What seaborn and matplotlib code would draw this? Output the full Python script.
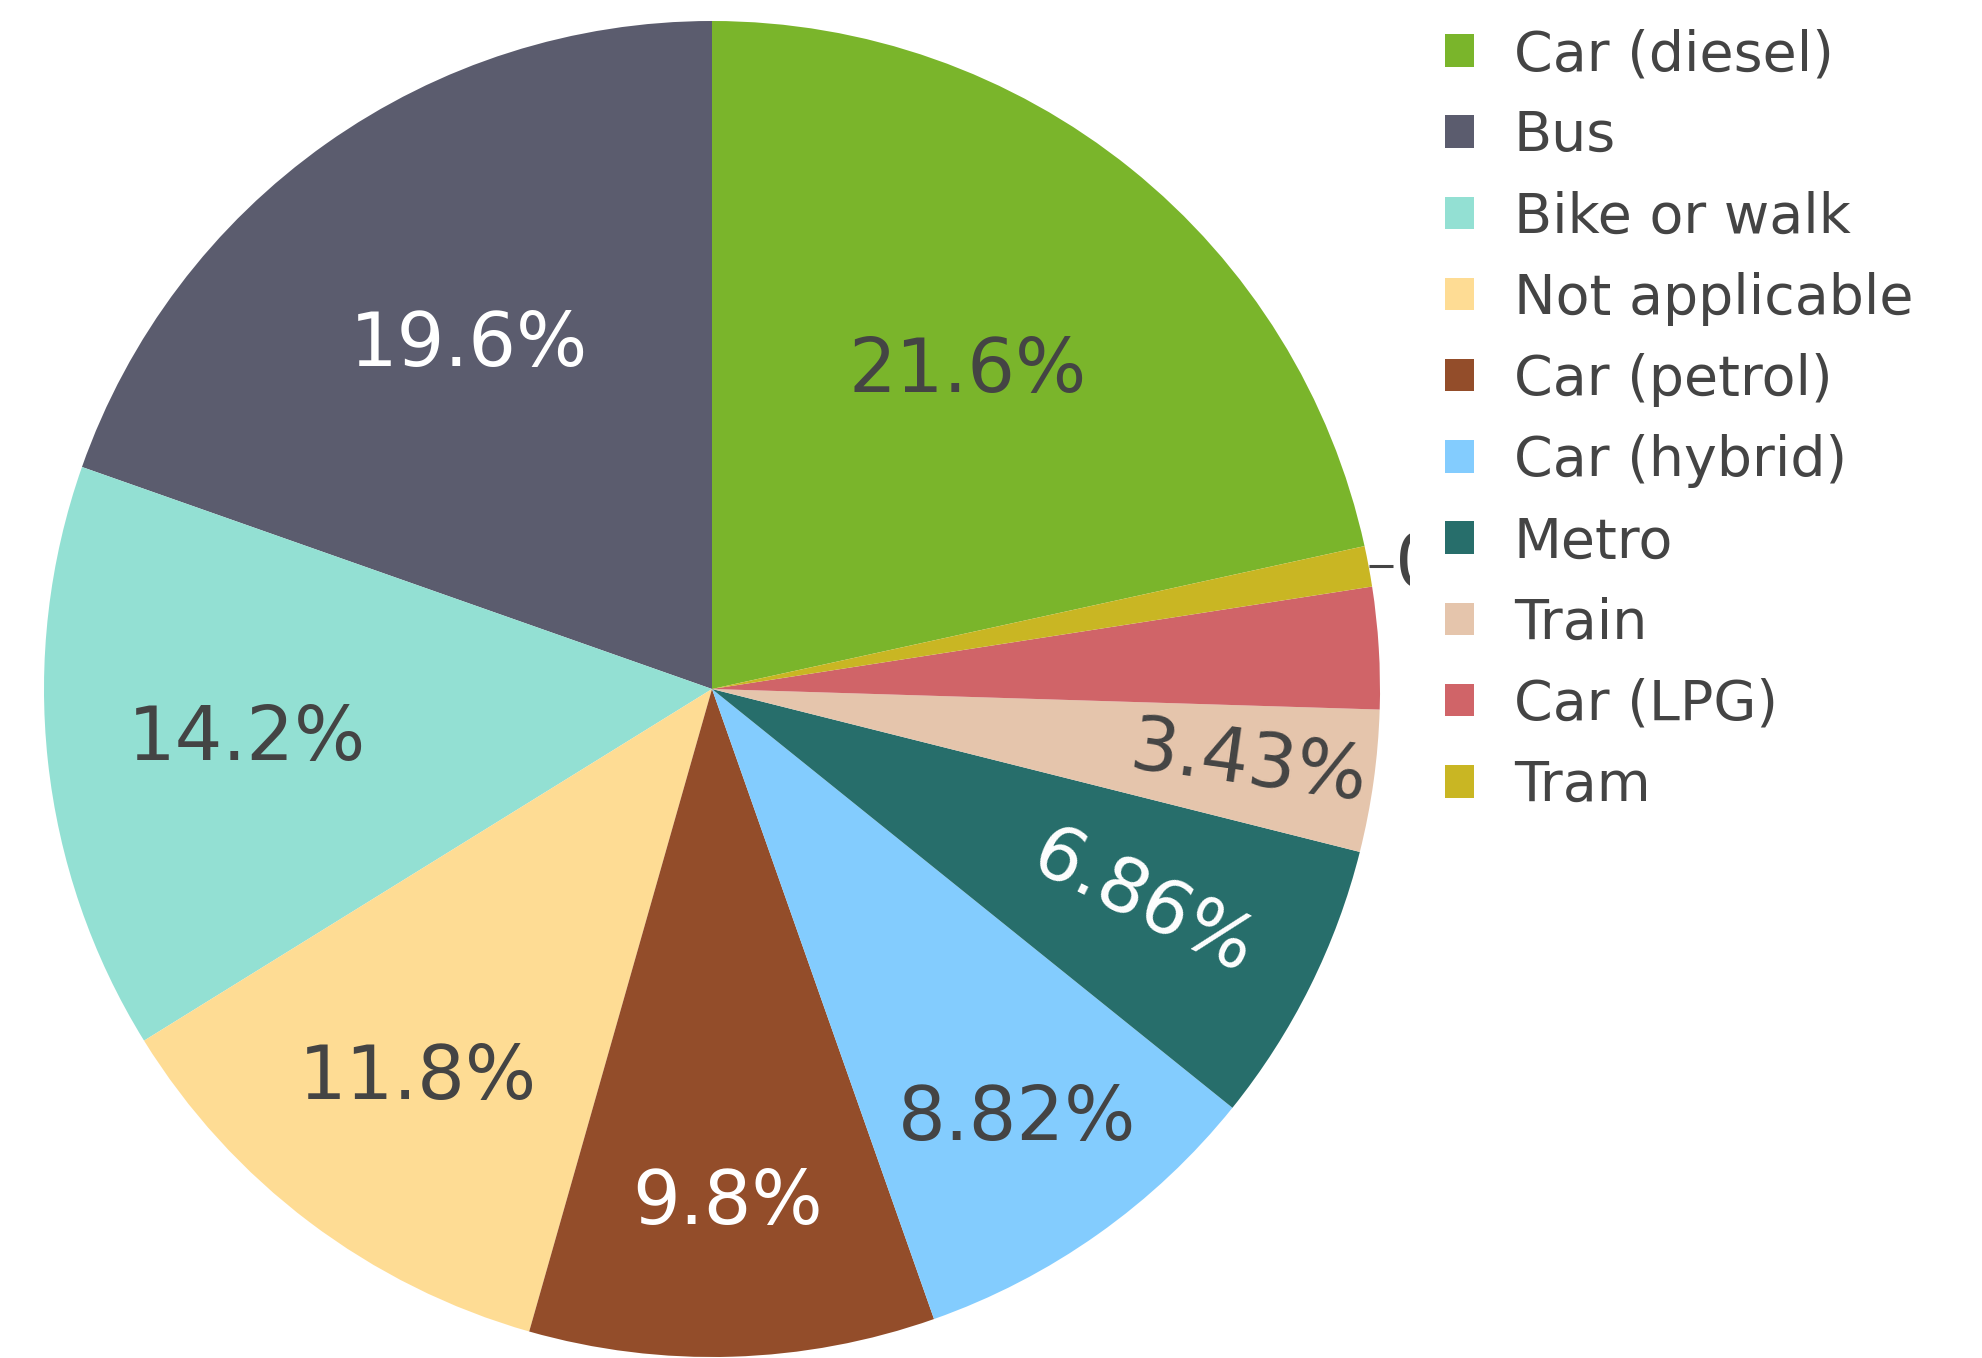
import numpy as np
import matplotlib
matplotlib.use('Agg')
import matplotlib.pyplot as plt
from matplotlib.patches import Patch
import seaborn as sns

# Commute mode shares (counts out of 204 respondents)
modes = ["Car (diesel)", "Bus", "Bike or walk", "Not applicable", "Car (petrol)",
         "Car (hybrid)", "Metro", "Train", "Car (LPG)", "Tram"]
counts = [44, 40, 29, 24, 20, 18, 14, 7, 6, 2]
colors = ["#7AB52B", "#5B5C6E", "#93E0D3", "#FEDC94", "#934D2A",
          "#83CCFE", "#276E6B", "#E5C5AC", "#D06468", "#C9B623"]
# how each slice label is shown
label_mode = ["in", "in", "in", "in", "in", "in", "in", "in", "none", "out"]
label_radius = [0.61, 0.63, 0.70, 0.73, 0.77, 0.79, 0.72, 0.81, 0.0, 1.0]
dark_slices = ["Bus", "Car (petrol)", "Metro"]

sns.set_theme(style="white")
plt.rcParams['font.family'] = ['DejaVu Sans']
TXT = "#444444"

W, H = 1983, 1358
cx, cy, R = 712, 689, 668
clip_x = 1410

fig = plt.figure(figsize=(W / 100, H / 100), dpi=100)
ax = fig.add_axes([0, 0, clip_x / W, 1])

palette = sns.color_palette(colors)
shares = np.array(counts) / sum(counts)
start = 90 - 360 * shares[0]
wedges, _ = ax.pie(counts, colors=palette, startangle=start, counterclock=True,
                   radius=1, wedgeprops=dict(linewidth=0))

for w, name, share, mode, rr in zip(wedges, modes, shares, label_mode, label_radius):
    mid = np.deg2rad((w.theta1 + w.theta2) / 2)
    txt = f"{share * 100:.3g}%"
    if mode == "in":
        rot = np.rad2deg(mid) % 360 - 360 if share < 0.08 else 0
        col = "white" if name in dark_slices else TXT
        ax.text(rr * np.cos(mid), rr * np.sin(mid), txt, ha="center", va="center",
                fontsize=54, color=col, rotation=rot, rotation_mode="anchor")
    elif mode == "out":
        # outside label, cut off at the plot area edge like the original
        x0, y0 = np.cos(mid), np.sin(mid)
        x1 = x0 + 24 / R
        ax.plot([x0, x1], [y0, y0], color=TXT, lw=2.2, solid_capstyle="butt")
        t = ax.text(x1 + 2 / R, y0, txt, ha="left", va="center", fontsize=54, color=TXT)
        t.set_clip_on(True)

ax.set_aspect("auto")
ax.set_xlim(-cx / R, (clip_x - cx) / R)
ax.set_ylim(-(H - cy) / R, cy / R)
ax.axis("off")

handles = [Patch(facecolor=c, edgecolor="none") for c in palette]
fig.legend(handles, modes, loc="upper left", bbox_to_anchor=(1445 / W, 1 - 28 / H),
           frameon=False, fontsize=40, handlelength=0.52, handleheight=0.52,
           handletextpad=0.72, labelspacing=0.49, borderpad=0, borderaxespad=0,
           labelcolor=TXT)

fig.savefig("out.png", dpi=100)
